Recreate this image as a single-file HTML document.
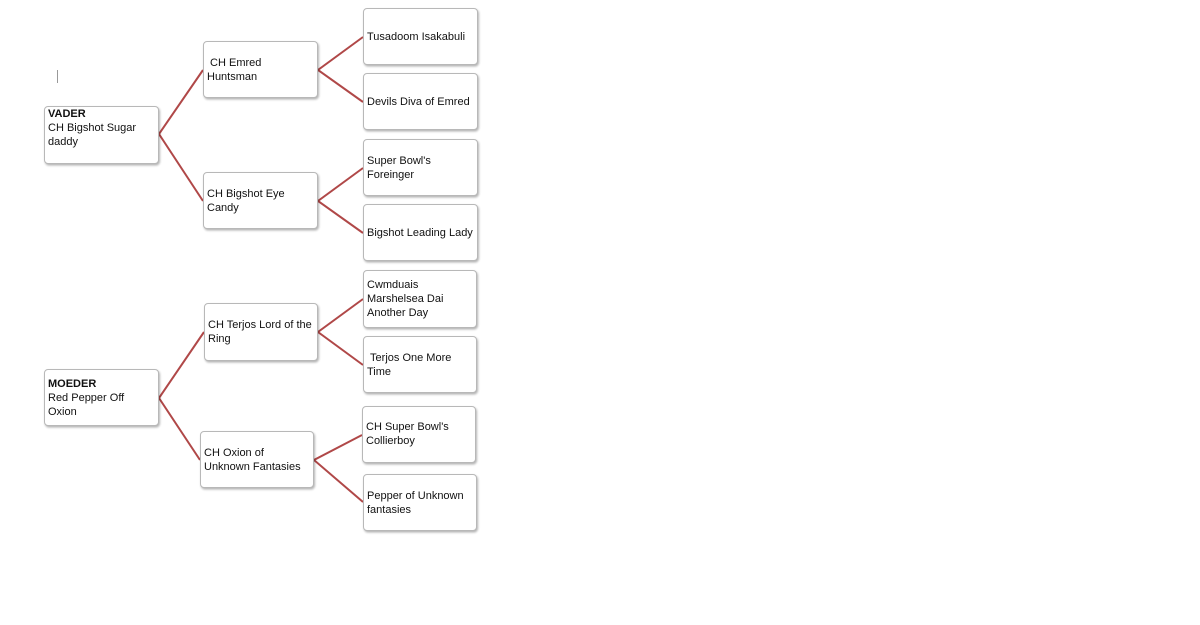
<!DOCTYPE html>
<html><head><meta charset="utf-8"><style>
body{margin:0;background:#fff;width:1200px;height:625px;position:relative;overflow:hidden;font-family:"Liberation Sans",sans-serif;font-size:11px;color:#111}
.b{position:absolute;box-sizing:border-box;border:1px solid #b8b8b8;border-radius:4px;background:#fff;box-shadow:1px 1.5px 2px rgba(0,0,0,.3);display:flex;align-items:center;padding-left:3px;line-height:14px}
svg{position:absolute;left:0;top:0}
</style></head><body>
<svg width="1200" height="625"><g stroke="#b04848" stroke-width="2" fill="none">
<polyline points="203,70 159,134 203,201"/>
<polyline points="363,37 318,70 363,102"/>
<polyline points="363,168 318,201 363,233"/>
<polyline points="204,332 159,398 200,460"/>
<polyline points="363,299 318,332 363,365"/>
<polyline points="362,435 314,460 363,502"/>
</g><line x1="57.5" y1="70" x2="57.5" y2="83" stroke="#999" stroke-width="1"/></svg>
<div class="b" style="left:44px;top:106px;width:115px;height:58px;align-items:flex-start;padding-top:0"><div style="margin-top:0px"><b>VADER</b><br>CH Bigshot Sugar<br>daddy</div></div>
<div class="b" style="left:203px;top:41px;width:115px;height:57px"><div>&nbsp;CH Emred<br>Huntsman</div></div>
<div class="b" style="left:203px;top:172px;width:115px;height:57px"><div>CH Bigshot Eye<br>Candy</div></div>
<div class="b" style="left:363px;top:8px;width:115px;height:57px;align-items:flex-start;padding-top:21px">Tusadoom Isakabuli</div>
<div class="b" style="left:363px;top:73px;width:115px;height:57px;align-items:flex-start;padding-top:21px">Devils Diva of Emred</div>
<div class="b" style="left:363px;top:139px;width:115px;height:57px;align-items:flex-start;padding-top:14px"><div>Super Bowl's<br>Foreinger</div></div>
<div class="b" style="left:363px;top:204px;width:115px;height:57px">Bigshot Leading Lady</div>
<div class="b" style="left:363px;top:270px;width:114px;height:58px"><div>Cwmduais<br>Marshelsea Dai<br>Another Day</div></div>
<div class="b" style="left:363px;top:336px;width:114px;height:57px"><div>&nbsp;Terjos One More<br>Time</div></div>
<div class="b" style="left:44px;top:369px;width:115px;height:57px"><div><b>MOEDER</b><br>Red Pepper Off<br>Oxion</div></div>
<div class="b" style="left:204px;top:303px;width:114px;height:58px"><div>CH Terjos Lord of the<br>Ring</div></div>
<div class="b" style="left:200px;top:431px;width:114px;height:57px"><div>CH Oxion of<br>Unknown Fantasies</div></div>
<div class="b" style="left:362px;top:406px;width:114px;height:57px;align-items:flex-start;padding-top:13px"><div>CH Super Bowl's<br>Collierboy</div></div>
<div class="b" style="left:363px;top:474px;width:114px;height:57px"><div>Pepper of Unknown<br>fantasies</div></div>
</body></html>
